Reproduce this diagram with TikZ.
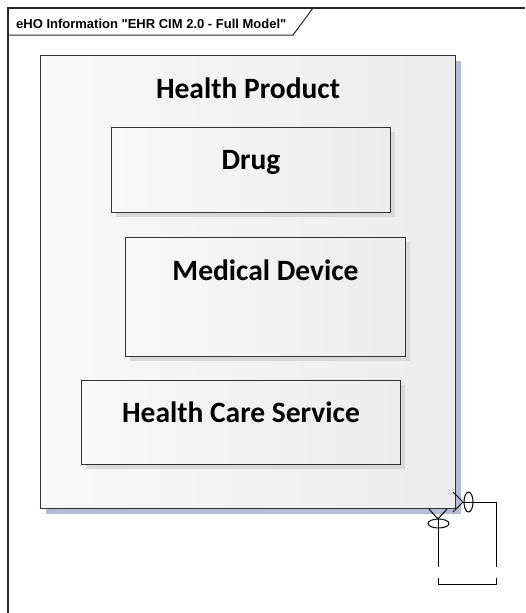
\documentclass[tikz,border=0pt]{standalone}
\usepackage{fontspec}
\setmainfont{Carlito}
\newfontfamily\framefont{Liberation Sans}
\usetikzlibrary{positioning,shadows}
\definecolor{boxL}{HTML}{E4E4E4}
\definecolor{boxM}{HTML}{F8F8F8}
\definecolor{boxR}{HTML}{E6E6E6}
\definecolor{hpShadow}{HTML}{B4BCD2}
\definecolor{boxShadow}{HTML}{D9D9D9}
\pgfdeclarehorizontalshading{classfill}{100bp}{color(0bp)=(boxL); color(25bp)=(boxM); color(100bp)=(boxR)}

\begin{document}
\begin{tikzpicture}[x=1pt, y=-1pt,
    boxbase/.style={draw=black!80, line width=1pt, shading=classfill, inner sep=0pt, anchor=north west},
    classbox/.style={boxbase, drop shadow={shadow xshift=4pt, shadow yshift=-4pt, fill=boxShadow, opacity=1}},
    pkgbox/.style={boxbase, drop shadow={shadow xshift=5pt, shadow yshift=-5pt, fill=hpShadow, opacity=1}},
    boxname/.style={font=\bfseries\fontsize{29.5}{30}\selectfont, anchor=base, inner sep=0pt},
    assoc/.style={line width=1pt}]
    \useasboundingbox (0,0) rectangle (525,613);

    % diagram frame and its tab
    \draw[line width=1.2pt, black!85] (8,613) -- (8,8) -- (525,8);
    \draw[line width=1pt, black!85] (8,35) -- (293,35) -- (313,8);
    \node[anchor=base west, inner sep=0pt, font=\framefont\bfseries\fontsize{13}{14}\selectfont] (frametitle) at (16,28) {eHO Information "EHR CIM 2.0 - Full Model"};

    % classes
    \node[pkgbox, minimum width=415pt, minimum height=453pt] (hp) at (40,55) {};
    \node[boxname] (hpname) at ([yshift=-43pt]hp.north) {Health Product};

    \node[classbox, minimum width=279pt, minimum height=85pt] (drug) at (111,127) {};
    \node[boxname] (drugname) at ([yshift=-42pt]drug.north) {Drug};

    \node[classbox, minimum width=280pt, minimum height=119pt] (meddev) at (125,237) {};
    \node[boxname] (meddevname) at ([yshift=-43pt]meddev.north) {Medical Device};

    \node[classbox, minimum width=319pt, minimum height=84pt] (hcs) at (81,380) {};
    \node[boxname] (hcsname) at ([yshift=-42pt]hcs.north) {Health Care Service};

    % self association of Health Product
    \coordinate (rtip) at (463,502);
    \coordinate (btip) at (438,519);
    \coordinate (rcorner) at (496,502);
    \coordinate (rlow) at (496,567);
    \coordinate (blow) at (438,567);
    \draw[assoc] (453,492) -- (rtip) -- (453,512);
    \draw[assoc] (429,509) -- (btip) -- (447,509);
    \draw[assoc] (468.5,502) ellipse [x radius=4.5, y radius=10];
    \draw[assoc] (438.5,523.5) ellipse [x radius=10.5, y radius=4.5];
    \draw[assoc] (rtip) -- (rcorner) -- (rlow);
    \draw[assoc] (btip) -- (blow);
    \draw[assoc] (438,578) -- (438,584) -- (496,584) -- (496,578);
\end{tikzpicture}
\end{document}
